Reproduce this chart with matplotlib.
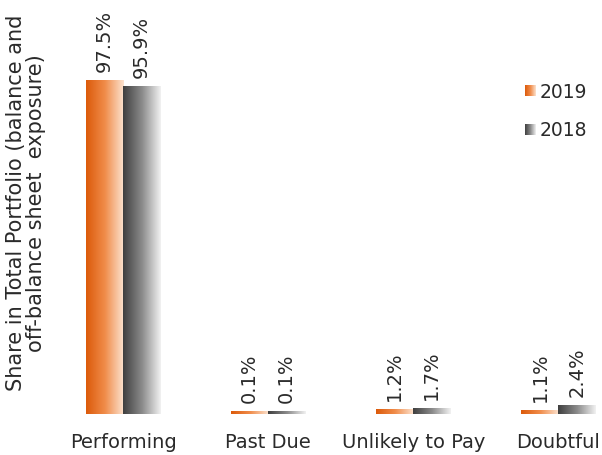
import numpy as np
import matplotlib.pyplot as plt
from matplotlib.colors import LinearSegmentedColormap

plt.rcParams['font.family'] = ['DejaVu Sans']

categories = ['Performing', 'Past Due', 'Unlikely to Pay', 'Doubtful']
share_2019 = [97.5, 0.1, 1.2, 1.1]
share_2018 = [95.9, 0.1, 1.7, 2.4]
labels_2019 = ['97.5%', '0.1%', '1.2%', '1.1%']
labels_2018 = ['95.9%', '0.1%', '1.7%', '2.4%']

orange = LinearSegmentedColormap.from_list('o', ['#DC5A0A', '#F08C4A', '#FCE3D0'])
grey = LinearSegmentedColormap.from_list('g', ['#3F3F3F', '#8A8A8A', '#F2F2F2'])
grad = np.linspace(0, 1, 256).reshape(1, -1)
txt_col = '#2a2a2a'

fig = plt.figure(figsize=(6.02, 4.56), dpi=100)
ax = fig.add_axes([50 / 602, 41 / 456, 552 / 602, 415 / 456])

w = 0.255
x = np.arange(len(categories))
min_h = 0.8


def grad_bar(xc, h, cmap):
    hh = max(h, min_h)
    ax.imshow(grad, cmap=cmap, aspect='auto', extent=[xc - w / 2, xc + w / 2, 0, hh],
              interpolation='bilinear', zorder=2)


for i in range(len(categories)):
    grad_bar(x[i] - w / 2, share_2019[i], orange)
    grad_bar(x[i] + w / 2, share_2018[i], grey)
    ax.text(x[i] - w / 2, max(share_2019[i], min_h) + 2.8, labels_2019[i], rotation=90,
            ha='center', va='bottom', fontsize=14, color=txt_col)
    ax.text(x[i] + w / 2, max(share_2018[i], min_h) + 2.8, labels_2018[i], rotation=90,
            ha='center', va='bottom', fontsize=14, color=txt_col)

ax.set_xlim(-0.503, 3.30)
ax.set_ylim(0, 121.5)
ax.set_aspect('auto')

ax.set_xticks(x)
ax.set_xticklabels(categories, fontsize=14, color=txt_col)
ax.tick_params(axis='x', length=0, pad=13)
ax.set_yticks([])
for s in ax.spines.values():
    s.set_visible(False)

# legend drawn by hand with gradient swatches
for yl, cmap, txt in [(94.5, orange, '2019'), (83.3, grey, '2018')]:
    ax.imshow(grad, cmap=cmap, aspect='auto', extent=[2.77, 2.84, yl - 1.5, yl + 1.5],
              interpolation='bilinear', zorder=2)
    ax.text(2.87, yl, txt, fontsize=13.5, va='center', ha='left', color=txt_col)

fig.text(26 / 602, 1 - 203 / 456, 'Share in Total Portfolio (balance and\noff-balance sheet  exposure)',
         rotation=90, ha='center', va='center', fontsize=15, color=txt_col,
         multialignment='center', linespacing=1.0)

fig.savefig('out.png', dpi=100)
